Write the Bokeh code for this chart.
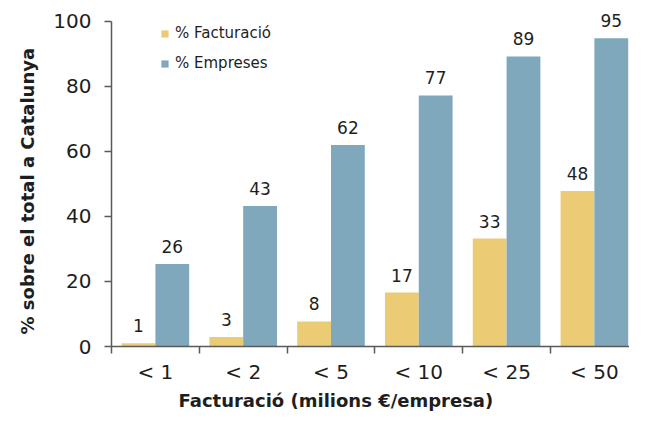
import numpy as np
from bokeh.plotting import figure
from bokeh.models import ColumnDataSource, FixedTicker, Range1d, Legend, LegendItem, LabelSet, Title
from bokeh.embed import file_html
from bokeh.resources import INLINE
from bokeh.core.properties import value

categories = ["< 1", "< 2", "< 5", "< 10", "< 25", "< 50"]
facturacio = [1.0, 2.9, 7.7, 16.6, 33.2, 47.8]
empreses = [25.4, 43.2, 62.0, 77.2, 89.2, 94.8]
facturacio_labels = ["1", "3", "8", "17", "33", "48"]
empreses_labels = ["26", "43", "62", "77", "89", "95"]
y_ticks = [0, 20, 40, 60, 80, 100]

YELLOW = "#EBCB74"
BLUE = "#7FA8BC"
FONT = "DejaVu Sans"
TXT = "#1e1e1e"
AX = "#5a5a5a"

n = len(categories)
centers = np.arange(n) + 0.5
bw = 0.385

src_f = ColumnDataSource(dict(x=centers - bw / 2, top=facturacio, lab=facturacio_labels))
src_e = ColumnDataSource(dict(x=centers + bw / 2, top=empreses, lab=empreses_labels))

p = figure(width=629, height=411, output_backend="svg", toolbar_location=None,
           x_range=Range1d(0, 5.9), y_range=Range1d(0, 105.8),
           min_border_left=111, min_border_right=0, min_border_top=2, min_border_bottom=63)
p.outline_line_color = None
p.grid.grid_line_color = None
p.background_fill_color = "white"
p.border_fill_color = "white"

r_f = p.vbar(x="x", top="top", width=bw, source=src_f, fill_color=YELLOW, line_color=None)
r_e = p.vbar(x="x", top="top", width=bw, source=src_e, fill_color=BLUE, line_color=None)

for src in (src_f, src_e):
    p.add_layout(LabelSet(x="x", y="top", text="lab", source=src, text_align="center",
                          text_baseline="alphabetic", y_offset=11,
                          text_font=value(FONT), text_font_size="17px", text_color=TXT))

# x axis
xa = p.xaxis[0]
xa.ticker = FixedTicker(ticks=list(centers), minor_ticks=list(np.arange(n + 1)))
xa.major_label_overrides = {float(c): lab for c, lab in zip(centers, categories)}
xa.major_tick_line_color = None
xa.minor_tick_line_color = AX
xa.minor_tick_line_width = 1.5
xa.minor_tick_out = 7
xa.minor_tick_in = 0
xa.axis_line_color = AX
xa.axis_line_width = 1.5
xa.major_label_text_font = FONT
xa.major_label_text_font_size = "20px"
xa.major_label_text_color = TXT
xa.major_label_standoff = 6

# y axis
ya = p.yaxis[0]
ya.ticker = FixedTicker(ticks=y_ticks)
ya.bounds = (0, 100)
ya.major_tick_line_color = AX
ya.major_tick_line_width = 1.5
ya.major_tick_out = 7
ya.major_tick_in = 0
ya.minor_tick_line_color = None
ya.axis_line_color = AX
ya.axis_line_width = 1.5
ya.major_label_text_font = FONT
ya.major_label_text_font_size = "20px"
ya.major_label_text_color = TXT
ya.major_label_standoff = 13

x_title = Title(text="Facturació (milions €/empresa)", align="left", offset=67, standoff=2,
                text_font=FONT, text_font_size="18px", text_font_style="bold", text_color=TXT)
p.add_layout(x_title, "below")
y_title = Title(text="% sobre el total a Catalunya", align="left", offset=12, standoff=26,
                text_font=FONT, text_font_size="18px", text_font_style="bold", text_color=TXT)
p.add_layout(y_title, "left")

legend = Legend(items=[LegendItem(label="% Facturació", renderers=[r_f]),
                       LegendItem(label="% Empreses", renderers=[r_e])],
                location=(49, 273), padding=0, spacing=10, margin=0,
                glyph_width=9, glyph_height=9, label_height=20, label_standoff=6,
                label_text_font=FONT, label_text_font_size="15px", label_text_color=TXT,
                border_line_color=None, background_fill_alpha=0)
p.add_layout(legend)

open("out.html", "w").write(file_html(p, INLINE))
